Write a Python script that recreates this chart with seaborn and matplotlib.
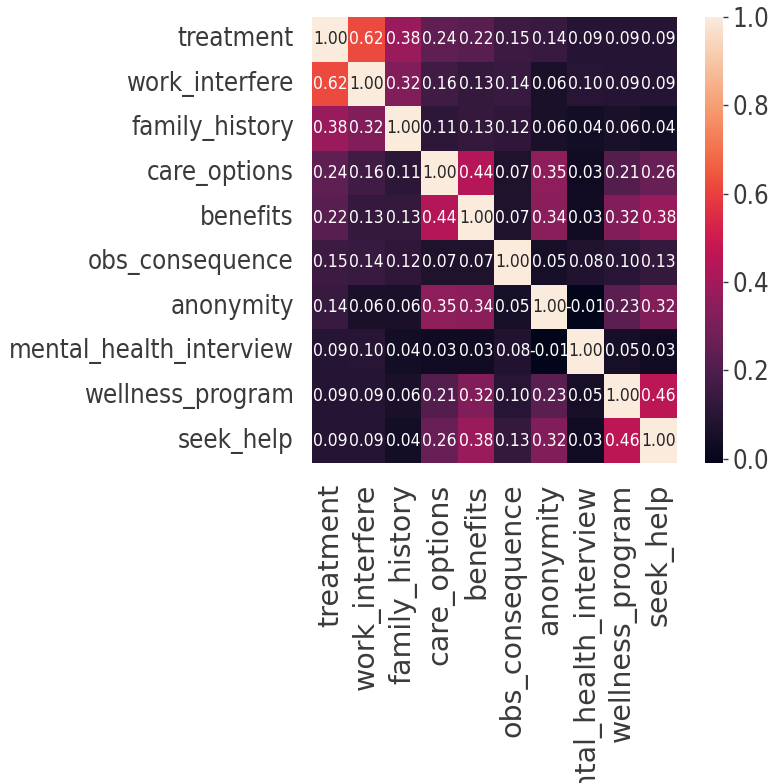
import numpy as np
import pandas as pd
import matplotlib
matplotlib.use("Agg")
import matplotlib.pyplot as plt
import seaborn as sns

features = ["treatment", "work_interfere", "family_history", "care_options",
            "benefits", "obs_consequence", "anonymity",
            "mental_health_interview", "wellness_program", "seek_help"]

row_treatment = [1.00, 0.62, 0.38, 0.24, 0.22, 0.15, 0.14, 0.09, 0.09, 0.09]
row_work_interfere = [0.62, 1.00, 0.32, 0.16, 0.13, 0.14, 0.06, 0.10, 0.09, 0.09]
row_family_history = [0.38, 0.32, 1.00, 0.11, 0.13, 0.12, 0.06, 0.04, 0.06, 0.04]
row_care_options = [0.24, 0.16, 0.11, 1.00, 0.44, 0.07, 0.35, 0.03, 0.21, 0.26]
row_benefits = [0.22, 0.13, 0.13, 0.44, 1.00, 0.07, 0.34, 0.03, 0.32, 0.38]
row_obs_consequence = [0.15, 0.14, 0.12, 0.07, 0.07, 1.00, 0.05, 0.08, 0.10, 0.13]
row_anonymity = [0.14, 0.06, 0.06, 0.35, 0.34, 0.05, 1.00, -0.01, 0.23, 0.32]
row_mental_health_interview = [0.09, 0.10, 0.04, 0.03, 0.03, 0.08, -0.01, 1.00, 0.05, 0.03]
row_wellness_program = [0.09, 0.09, 0.06, 0.21, 0.32, 0.10, 0.23, 0.05, 1.00, 0.46]
row_seek_help = [0.09, 0.09, 0.04, 0.26, 0.38, 0.13, 0.32, 0.03, 0.46, 1.00]

corr = pd.DataFrame(
    [row_treatment, row_work_interfere, row_family_history, row_care_options,
     row_benefits, row_obs_consequence, row_anonymity,
     row_mental_health_interview, row_wellness_program, row_seek_help],
    index=features, columns=features)

sns.set_theme(style="white")
plt.rcParams["font.family"] = ["DejaVu Sans"]

fig = plt.figure(figsize=(7.76, 7.83), dpi=100)
ax = fig.add_axes([0.402, 0.4087, 0.4704, 0.5696])
cax = fig.add_axes([0.9085, 0.4087, 0.0232, 0.5696])

sns.heatmap(corr, annot=True, fmt=".2f", ax=ax, cbar_ax=cax,
            annot_kws={"fontsize": 12.5, "fontstretch": "condensed"})

label_color = "#3a3a3a"
ax.tick_params(axis="y", length=0, pad=13)
ax.tick_params(axis="x", length=0, pad=15)
for lbl in ax.get_yticklabels():
    lbl.set_fontsize(18.5)
    lbl.set_fontstretch("condensed")
    lbl.set_color(label_color)
    lbl.set_rotation(0)
for lbl in ax.get_xticklabels():
    lbl.set_fontsize(20.5)
    lbl.set_color(label_color)
    lbl.set_rotation(90)

cax.tick_params(labelsize=18.5, length=3.5, width=1, colors=label_color)
for lbl in cax.get_yticklabels():
    lbl.set_fontstretch("condensed")

fig.savefig("out.png", dpi=100)
